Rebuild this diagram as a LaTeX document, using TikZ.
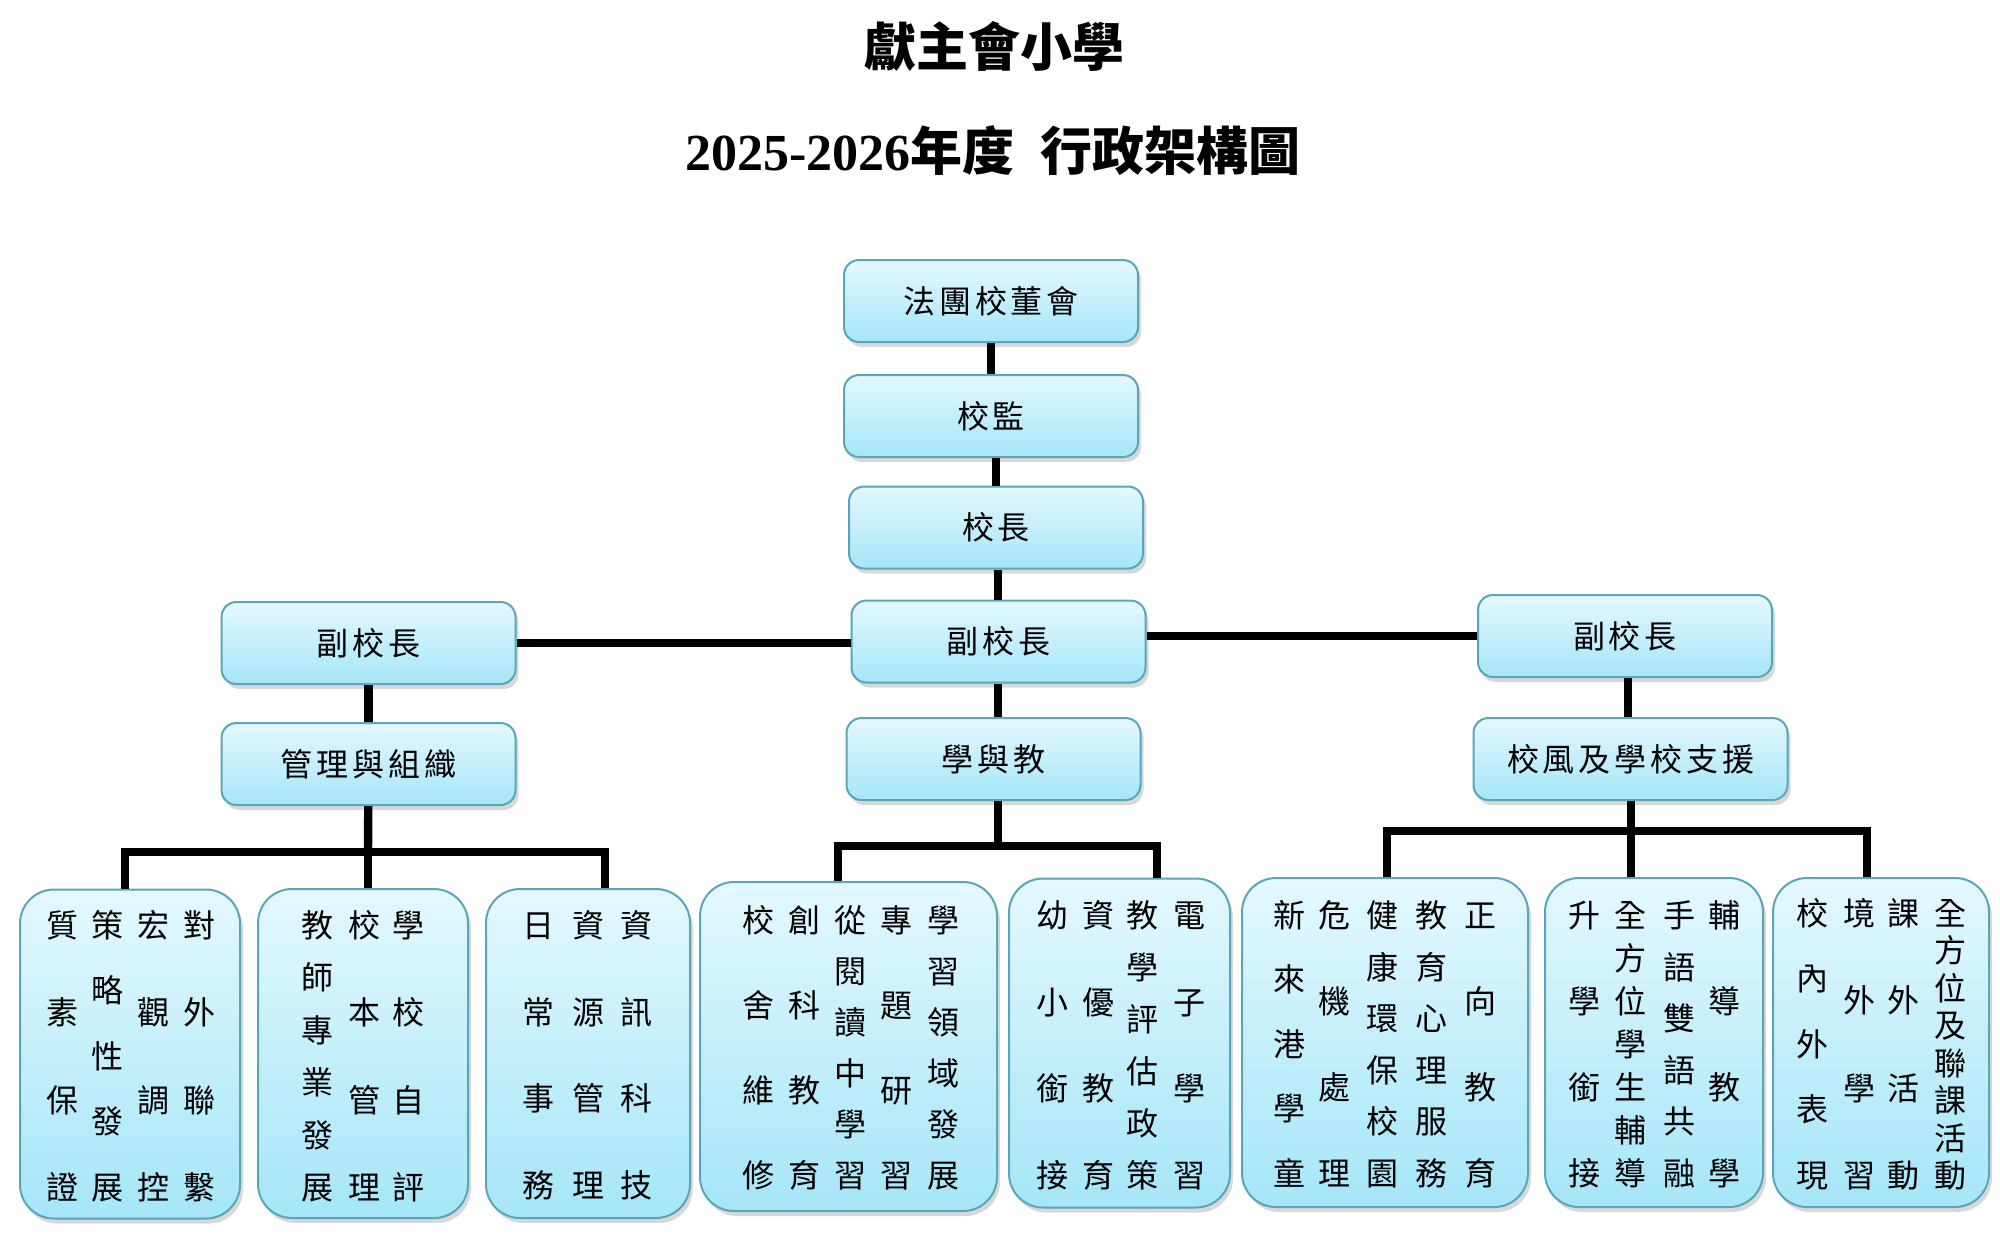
\documentclass[tikz,border=0pt]{standalone}
\usepackage{fontspec}
\setmainfont{Liberation Serif}
\newfontfamily\cjk{Noto Sans CJK TC}
\newfontfamily\cjksp[LetterSpace=12]{Noto Sans CJK TC}
\usetikzlibrary{shadows}
\definecolor{boxtop}{RGB}{228,248,253}
\definecolor{boxbot}{RGB}{165,230,248}
\definecolor{boxline}{RGB}{90,165,185}
\tikzset{
  box/.style={rounded corners=7.5pt, draw=boxline, line width=1pt,
    top color=boxtop, bottom color=boxbot,
    drop shadow={shadow xshift=1.5pt,shadow yshift=-2.5pt,opacity=0.3},
    inner sep=0pt, font=\cjksp\fontsize{16}{16}\selectfont},
  topbox/.style={box, minimum width=147pt, minimum height=41pt},
  bigbox/.style={box, rounded corners=17pt, minimum height=164.5pt},
  conn/.style={line width=4.2pt, black, line join=miter},
  colsty/.style={inner sep=0pt, anchor=north, font=\cjk\fontsize{16}{16}\selectfont},
}
\newcommand\vcol[5]{%
  \node[colsty, yshift=7.6pt] (#1) at (#2,#3) {\vbox to \dimexpr 0.5pt*(#4-#3)+15.2pt\relax{\offinterlineskip
    \foreach \ch [count=\ci] in {#5}{\ifnum\ci>1 \vfill\fi\hbox to 16pt{\hss\vrule height 13.6pt depth 1.6pt width 0pt\ch\hss}}\kern0pt}};}
\begin{document}
\begin{tikzpicture}[x=0.5pt,y=-0.5pt]
\useasboundingbox[fill=white] (0,0) rectangle (2000,1250);
% titles
\node (t1) at (994,46) {\cjk\bfseries\fontsize{26}{26}\selectfont 獻主會小學};
\node (t2) at (993,151) {\bfseries\fontsize{26}{26}\selectfont 2025-2026{\cjk 年度}\hspace{0.5em}{\cjk 行政架構圖}};
% bus coordinates
\coordinate (busL) at (368,852);
\coordinate (dL1) at (125,852);
\coordinate (dL3) at (605,852);
\coordinate (busM) at (998,846);
\coordinate (dM1) at (838,846);
\coordinate (dM2) at (1157,846);
\coordinate (busR) at (1631,831);
\coordinate (dR1) at (1387,831);
\coordinate (dR3) at (1867,831);
% top chain boxes
\node[topbox] (board) at (991,301) {法團校董會};
\node[topbox] (sup) at (991,416) {校監};
\node[topbox] (principal) at (996,527.5) {校長};
\node[topbox] (vpM) at (998.5,641.5) {副校長};
\node[topbox] (vpL) at (368.5,643) {副校長};
\node[topbox] (vpR) at (1625,636) {副校長};
\node[topbox] (mgmt) at (368.5,764) {管理與組織};
\node[topbox] (lt) at (993.5,759) {學與教};
\node[topbox, minimum width=157pt] (supp) at (1630.5,759) {校風及學校支援};
% bottom boxes
\node[bigbox, minimum width=110pt] (b1) at (130,1054) {};
\node[bigbox, minimum width=105pt] (b2) at (363,1053.5) {};
\node[bigbox, minimum width=102pt] (b3) at (588,1053.5) {};
\node[bigbox, minimum width=148.5pt] (b4) at (848.5,1046.5) {};
\node[bigbox, minimum width=110.5pt] (b5) at (1119.5,1043) {};
\node[bigbox, minimum width=143pt] (b6) at (1385,1042.5) {};
\node[bigbox, minimum width=109pt] (b7) at (1654,1042.5) {};
\node[bigbox, minimum width=108pt] (b8) at (1881,1042.5) {};
% connectors
\draw[conn] (board) -- (sup);
\draw[conn] (sup.south -| principal) -- (principal.north);
\draw[conn] (principal.south -| 998,0) -- (vpM.north -| 998,0);
\draw[conn] (vpL.east) -- (vpL.east -| vpM.west);
\draw[conn] (vpR.west -| vpM.east) -- (vpR.west);
\draw[conn] (vpL) -- (mgmt);
\draw[conn] (vpM.south -| busM) -- (lt.north -| busM);
\draw[conn] (vpR.south -| 1628,0) -- (supp.north -| 1628,0);
% left bus
\draw[conn] (mgmt) -- (busL);
\draw[conn] (dL1 |- b1.north) -- (dL1) -- (dL3) -- (dL3 |- b3.north);
\draw[conn] (busL) -- (busL |- b2.north);
% middle bus
\draw[conn] (lt.south -| busM) -- (busM);
\draw[conn] (dM1 |- b4.north) -- (dM1) -- (dM2) -- (dM2 |- b5.north);
% right bus
\draw[conn] (supp.south -| busR) -- (busR);
\draw[conn] (dR1 |- b6.north) -- (dR1) -- (dR3) -- (dR3 |- b8.north);
\draw[conn] (busR) -- (busR |- b7.north);
% columns B1
\vcol{b1a}{62}{925}{1187}{質,素,保,證}
\vcol{b1b}{107}{925}{1187}{策,略,性,發,展}
\vcol{b1c}{153}{925}{1187}{宏,觀,調,控}
\vcol{b1d}{199}{925}{1187}{對,外,聯,繫}
% B2
\vcol{b2a}{317}{925}{1187}{教,師,專,業,發,展}
\vcol{b2b}{364}{925}{1187}{校,本,管,理}
\vcol{b2c}{408}{925}{1187}{學,校,自,評}
% B3
\vcol{b3a}{538}{925}{1185}{日,常,事,務}
\vcol{b3b}{588}{925}{1185}{資,源,管,理}
\vcol{b3c}{636}{925}{1185}{資,訊,科,技}
% B4
\vcol{b4a}{758}{920}{1175}{校,舍,維,修}
\vcol{b4b}{804}{920}{1175}{創,科,教,育}
\vcol{b4c}{850}{920}{1175}{從,閱,讀,中,學,習}
\vcol{b4d}{896}{920}{1175}{專,題,研,習}
\vcol{b4e}{943}{920}{1175}{學,習,領,域,發,展}
% B5
\vcol{b5a}{1052}{915}{1175}{幼,小,銜,接}
\vcol{b5b}{1098}{915}{1175}{資,優,教,育}
\vcol{b5c}{1142}{915}{1175}{教,學,評,估,政,策}
\vcol{b5d}{1189}{915}{1175}{電,子,學,習}
% B6
\vcol{b6a}{1289}{915}{1173}{新,來,港,學,童}
\vcol{b6b}{1334}{915}{1173}{危,機,處,理}
\vcol{b6c}{1382}{915}{1173}{健,康,環,保,校,園}
\vcol{b6d}{1431}{915}{1173}{教,育,心,理,服,務}
\vcol{b6e}{1480}{915}{1173}{正,向,教,育}
% B7
\vcol{b7a}{1584}{915}{1173}{升,學,銜,接}
\vcol{b7b}{1630}{915}{1173}{全,方,位,學,生,輔,導}
\vcol{b7c}{1679}{915}{1173}{手,語,雙,語,共,融}
\vcol{b7d}{1724}{915}{1173}{輔,導,教,學}
% B8
\vcol{b8a}{1812}{913}{1175}{校,內,外,表,現}
\vcol{b8b}{1859}{913}{1175}{境,外,學,習}
\vcol{b8c}{1903}{913}{1175}{課,外,活,動}
\vcol{b8d}{1950}{913}{1175}{全,方,位,及,聯,課,活,動}
\end{tikzpicture}
\end{document}
